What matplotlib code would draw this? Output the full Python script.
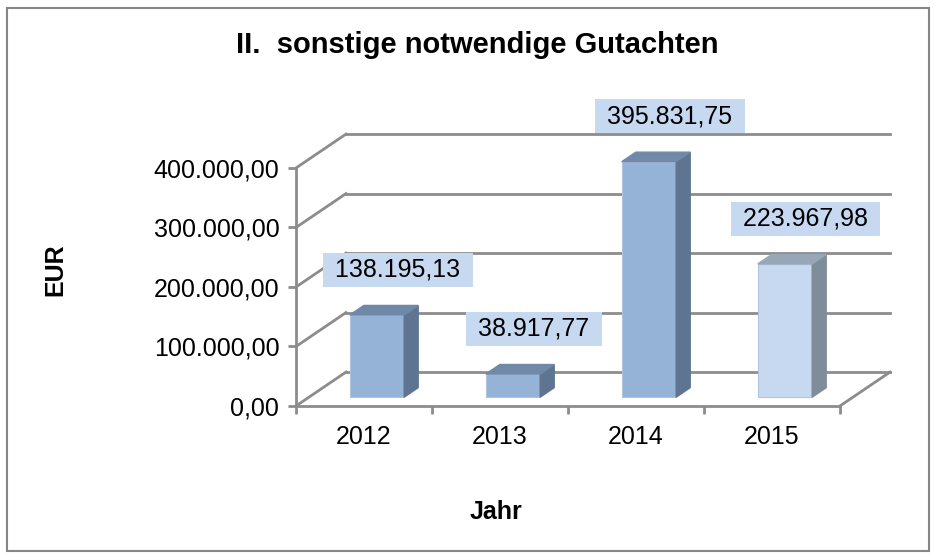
import numpy as np
import matplotlib.pyplot as plt
from matplotlib.patches import Rectangle

plt.rcParams['font.family'] = ['Liberation Sans', 'DejaVu Sans']

# Daten
jahre = ['2012', '2013', '2014', '2015']
werte = [138195.13, 38917.77, 395831.75, 223967.98]
beschriftung = ['138.195,13', '38.917,77', '395.831,75', '223.967,98']
yticks = [0, 100000, 200000, 300000, 400000]
ytick_labels = ['0,00', '100.000,00', '200.000,00', '300.000,00', '400.000,00']

# Farben (Front, Seite, Deckel)
farben = [('#95b3d7', '#5f7490', '#7189a8')] * 3 + [('#c6d9f0', '#7f8c99', '#98a7b8')]
grau = '#8c8c8c'

fig = plt.figure(figsize=(9.36, 5.55), dpi=100)
fig.patches.append(Rectangle((0.007, 0.008), 0.986, 0.978, transform=fig.transFigure,
                             fill=False, edgecolor='#868686', linewidth=1.5))
ax = fig.add_axes([0.3162, 0.2685, 0.5812, 0.4288])
ax.set_xlim(-0.5, 3.5)
ax.set_ylim(0, 400000)

# Tiefe der 3D-Darstellung (in Datenkoordinaten)
tx, ty = 0.368, 57000
f, g, breite = 0.26, 0.28, 0.40

# Rückwand + Seitenwand
for v in yticks:
    ax.plot([-0.5 + tx, 3.5 + tx], [v + ty, v + ty], color=grau, lw=2, clip_on=False, zorder=1)
    ax.plot([-0.5, -0.5 + tx], [v, v + ty], color=grau, lw=2, clip_on=False, zorder=1)
ax.plot([3.5, 3.5 + tx], [0, ty], color=grau, lw=2, clip_on=False, zorder=1)

x = np.arange(len(jahre))
for i, (xi, v) in enumerate(zip(x, werte)):
    front, seite, deckel = farben[i]
    x0 = xi - breite / 2 + f * tx
    x1 = xi + breite / 2 + f * tx
    y0 = f * ty
    ax.bar(x0, v, width=breite, bottom=y0, align='edge', color=front,
           edgecolor='#b0c4de', linewidth=0.8, zorder=3, clip_on=False)
    ax.fill([x1, x1 + g * tx, x1 + g * tx, x1],
            [y0, y0 + g * ty, y0 + v + g * ty, y0 + v],
            color=seite, zorder=3, clip_on=False)
    ax.fill([x0, x1, x1 + g * tx, x0 + g * tx],
            [y0 + v, y0 + v, y0 + v + g * ty, y0 + v + g * ty],
            color=deckel, zorder=3, clip_on=False)
    ax.text(xi + 0.25, v + (f + g) * ty + 60000, ' ' + beschriftung[i] + ' ',
            ha='center', va='center', fontsize=18, zorder=5, clip_on=False,
            bbox=dict(boxstyle='square,pad=0.2', facecolor='#c6d9f1', edgecolor='none'))

for s in ['top', 'right']:
    ax.spines[s].set_visible(False)
for s in ['left', 'bottom']:
    ax.spines[s].set_color(grau)
    ax.spines[s].set_linewidth(2)
ax.patch.set_visible(False)

ax.set_yticks(yticks)
ax.set_yticklabels(ytick_labels, fontsize=18)
ax.set_xticks(np.arange(-0.5, 4.0, 1.0))
ax.set_xticklabels([])
ax.set_xticks(x, minor=True)
ax.set_xticklabels(jahre, minor=True, fontsize=18)
ax.tick_params(axis='both', which='major', color=grau, width=2, length=6)
ax.tick_params(axis='x', which='minor', length=0, pad=14)
ax.tick_params(axis='y', pad=6)

fig.text(0.51, 0.919, 'II.  sonstige notwendige Gutachten', ha='center', va='center',
         fontsize=21, fontweight='bold')
fig.text(0.059, 0.514, 'EUR', ha='center', va='center', rotation=90,
         fontsize=18, fontweight='bold')
fig.text(0.530, 0.077, 'Jahr', ha='center', va='center', fontsize=18, fontweight='bold')

fig.savefig('out.png', dpi=100)
